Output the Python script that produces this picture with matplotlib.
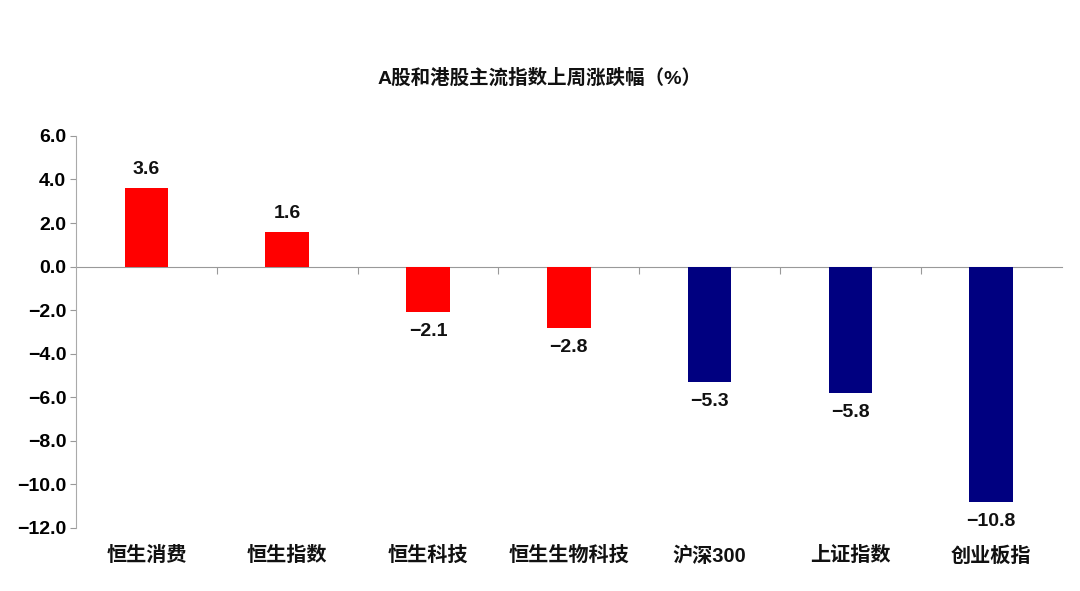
import matplotlib
matplotlib.use("Agg")

import numpy as np
import matplotlib.pyplot as plt
from matplotlib.ticker import FixedLocator, FuncFormatter

plt.rcParams['font.family'] = ['Liberation Sans', 'Noto Sans CJK SC', 'DejaVu Sans']
plt.rcParams['axes.unicode_minus'] = True

# %%

TITLE = 'A股和港股主流指数上周涨跌幅（%）'
categories = ['恒生消费', '恒生指数', '恒生科技', '恒生生物科技', '沪深300', '上证指数', '创业板指']
values = [3.6, 1.6, -2.1, -2.8, -5.3, -5.8, -10.8]
market = ['HK', 'HK', 'HK', 'HK', 'A', 'A', 'A']
COLORS = {'HK': '#ff0000', 'A': '#000080'}

####################

fig = plt.figure(figsize=(10.8, 5.91), dpi=100)
ax = fig.add_axes([0.0704, 0.1066, 0.9126, 0.6634])

x = np.arange(len(categories))
bars = ax.bar(x, values, width=0.31, color=[COLORS[m] for m in market], zorder=2)

for b, v in zip(bars, values):
    off = 7 if v >= 0 else -8
    ax.annotate(f'{v:.1f}'.replace('-', '\u2212'), (b.get_x() + b.get_width() / 2, v),
                xytext=(0, off), textcoords='offset points',
                ha='center', va='bottom' if v >= 0 else 'top',
                fontsize=14, fontweight='bold', color='#111111')

ax.set_xlim(-0.5, len(categories) - 0.5)
ax.set_ylim(-12, 6)
ax.set_yticks(np.arange(-12, 6.1, 2))
ax.yaxis.set_major_formatter(FuncFormatter(lambda v, p: f'{v:.1f}'.replace('-', '\u2212')))
ax.tick_params(axis='y', labelsize=14, length=4, width=0.8, color='#999999', pad=3)
for lab in ax.get_yticklabels():
    lab.set_fontweight('bold')

# zero line as the bottom spine with ticks at category boundaries
for s in ['top', 'right']:
    ax.spines[s].set_visible(False)
ax.spines['left'].set_color('#aaaaaa')
ax.spines['bottom'].set_position(('data', 0))
ax.spines['bottom'].set_color('#999999')
ax.spines['bottom'].set_zorder(1)
ax.set_xticks([])
ax.xaxis.set_minor_locator(FixedLocator(np.arange(0.5, len(categories) - 1, 1)))
ax.tick_params(axis='x', which='minor', length=5, width=0.8, color='#999999', direction='out')

sec = ax.secondary_xaxis('bottom')
sec.spines['bottom'].set_visible(False)
sec.set_xticks(x)
sec.set_xticklabels(categories, fontsize=14.5, fontweight='bold', color='#111111')
sec.tick_params(axis='x', length=0, pad=13)

fig.text(0.5, 0.868, TITLE, ha='center', va='center', fontsize=14, fontweight='bold', color='#111111')

fig.savefig('out.png', dpi=100, facecolor='white')
